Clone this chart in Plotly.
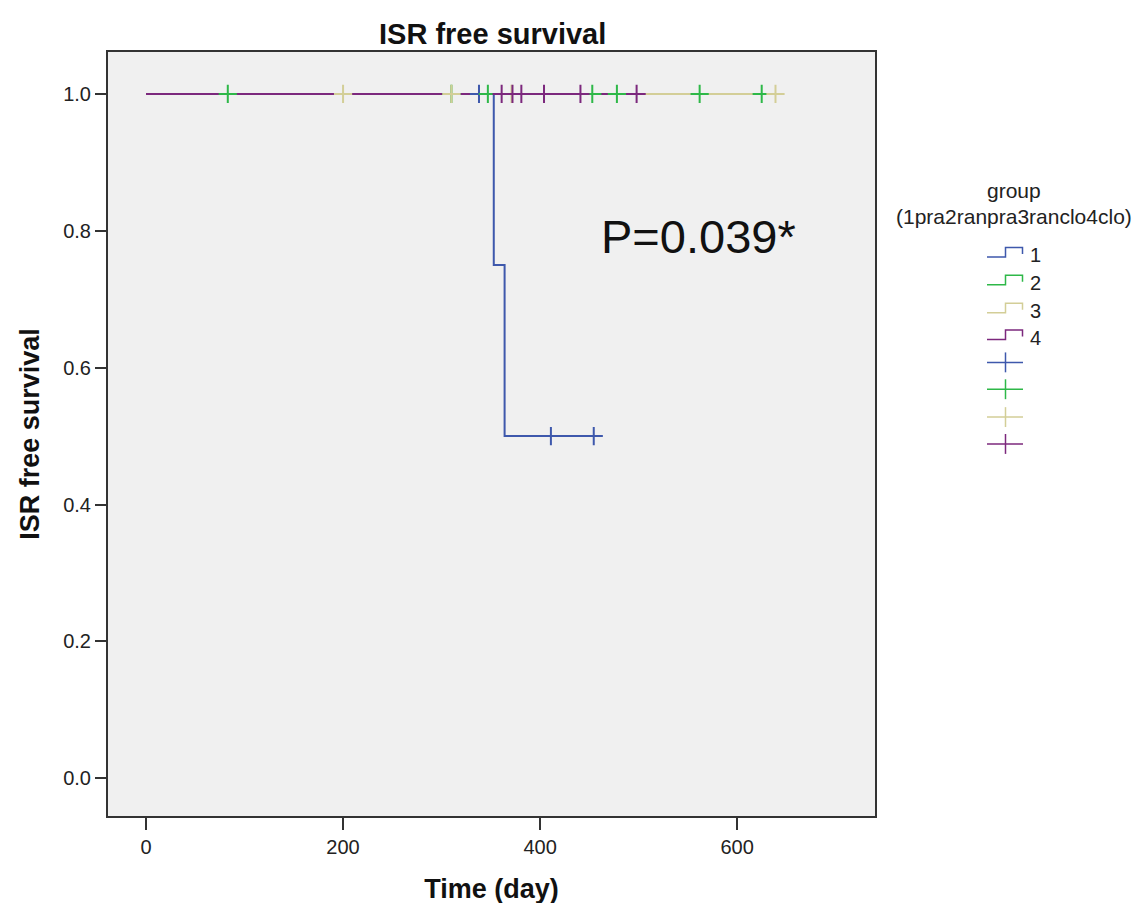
"""ISR free survival - Kaplan-Meier curves by group (SPSS style)."""

import plotly.graph_objects as go

# step curves per group (time in days, survival)
TIME_1 = [0, 353, 364, 454.5]
SURV_1 = [1.0, 0.75, 0.5, 0.5]
TIME_2 = [0, 625]
SURV_2 = [1.0, 1.0]
TIME_3 = [0, 639]
SURV_3 = [1.0, 1.0]
TIME_4 = [0, 498]
SURV_4 = [1.0, 1.0]

# censored observations
CENS_T_1 = [338, 411, 454.5]
CENS_S_1 = [1.0, 0.5, 0.5]
CENS_T_2 = [83, 310, 347, 453, 478, 562, 625]
CENS_S_2 = [1.0, 1.0, 1.0, 1.0, 1.0, 1.0, 1.0]
CENS_T_3 = [200, 310, 371, 639]
CENS_S_3 = [1.0, 1.0, 1.0, 1.0]
CENS_T_4 = [361, 372, 381, 404, 441, 498]
CENS_S_4 = [1.0, 1.0, 1.0, 1.0, 1.0, 1.0]

GROUPS = ["1", "2", "3", "4"]
X_TICKS = [0, 200, 400, 600]
Y_TICKS = [0.0, 0.2, 0.4, 0.6, 0.8, 1.0]

COLORS = {
    "1": "#3E58AC",
    "2": "#2EB848",
    "3": "#D3CE97",
    "4": "#7C287D",
    "bg": "#F0F0F0",
    "frame": "#333333",
    "text": "#222222",
}

FONT = "Liberation Sans, Arial, Helvetica, sans-serif"

# figure geometry (pixels), used to place the hand-drawn legend
W, H = 1140, 903
M_L, M_R, M_T, M_B = 100, 273, 44, 91
PW, PH = W - M_L - M_R, H - M_T - M_B


def px(x):
    return (x - M_L) / PW


def py(y):
    return (H - M_B - y) / PH


curves = [
    (TIME_1, SURV_1, CENS_T_1, CENS_S_1),
    (TIME_2, SURV_2, CENS_T_2, CENS_S_2),
    (TIME_3, SURV_3, CENS_T_3, CENS_S_3),
    (TIME_4, SURV_4, CENS_T_4, CENS_S_4),
]

fig = go.Figure()
for name, (t, s, _, _) in zip(GROUPS, curves):
    fig.add_trace(
        go.Scatter(
            x=t, y=s, mode="lines", name=name,
            line={"color": COLORS[name], "width": 2, "shape": "hv"},
            hoverinfo="skip",
        )
    )
for name, (_, _, ct, cs) in zip(GROUPS, curves):
    fig.add_trace(
        go.Scatter(
            x=ct, y=cs, mode="markers", name=name + " censored",
            marker={"symbol": "cross-thin", "size": 13,
                    "line": {"color": COLORS[name], "width": 2}},
            hoverinfo="skip",
        )
    )

# legend, drawn by hand to get the SPSS step icons
shapes = []
annotations = []
ICON_Y = [250, 278, 306, 333]
CROSS_Y = [356, 383, 411, 438]
for name, y in zip(GROUPS, ICON_Y):
    c = COLORS[name]
    path = "M {a},{b} L {m},{b} L {m},{t} L {r},{t} L {r},{e}".format(
        a=px(979), m=px(997.5), r=px(1014.5), b=py(y), t=py(y - 9.5), e=py(y - 3)
    )
    shapes.append({"type": "path", "xref": "paper", "yref": "paper", "path": path,
                   "line": {"color": c, "width": 1.5}})
    annotations.append({"x": px(1020), "y": py(y - 2), "xref": "paper", "yref": "paper",
                        "text": name, "showarrow": False, "xanchor": "left", "yanchor": "middle",
                        "font": {"size": 20, "color": COLORS["text"], "family": FONT}})
for name, y in zip(GROUPS, CROSS_Y):
    c = COLORS[name]
    shapes.append({"type": "line", "xref": "paper", "yref": "paper",
                   "x0": px(979), "x1": px(1015), "y0": py(y), "y1": py(y),
                   "line": {"color": c, "width": 1.5}})
    shapes.append({"type": "line", "xref": "paper", "yref": "paper",
                   "x0": px(997.5), "x1": px(997.5), "y0": py(y - 10), "y1": py(y + 10),
                   "line": {"color": c, "width": 1.5}})

annotations += [
    {"x": px(1006), "y": py(183), "xref": "paper", "yref": "paper", "text": "group",
     "showarrow": False, "xanchor": "center", "yanchor": "middle",
     "font": {"size": 21, "color": COLORS["text"], "family": FONT}},
    {"x": px(1006), "y": py(209), "xref": "paper", "yref": "paper",
     "text": "(1pra2ranpra3ranclo4clo)",
     "showarrow": False, "xanchor": "center", "yanchor": "middle",
     "font": {"size": 21, "color": COLORS["text"], "family": FONT}},
    {"x": px(690), "y": py(229), "xref": "paper", "yref": "paper", "text": "P=0.039*",
     "showarrow": False, "xanchor": "center", "yanchor": "middle",
     "font": {"size": 47, "color": "#111111", "family": FONT}},
    {"x": 571 / W, "y": py(26), "xref": "paper", "yref": "paper",
     "text": "<b>ISR free survival</b>",
     "showarrow": False, "xanchor": "center", "yanchor": "middle",
     "font": {"size": 29, "color": "#111111", "family": FONT}},
]

fig.update_layout(
    width=W,
    height=H,
    margin={"l": M_L, "r": M_R, "t": M_T, "b": M_B},
    paper_bgcolor="white",
    plot_bgcolor=COLORS["bg"],
    showlegend=False,
    font={"family": FONT, "color": COLORS["text"]},
    shapes=shapes,
    annotations=annotations,
)
fig.update_xaxes(
    range=[-38.6, 740],
    tickvals=X_TICKS,
    ticks="outside", ticklen=12, tickwidth=2, tickcolor=COLORS["frame"],
    showline=True, linecolor=COLORS["frame"], linewidth=2, mirror=True,
    showgrid=False, zeroline=False,
    tickfont={"size": 20, "color": COLORS["text"]},
    title={"text": "<b>Time (day)</b>", "font": {"size": 27, "color": "#111111"}, "standoff": 22},
)
fig.update_yaxes(
    range=[-0.0552, 1.0613],
    tickvals=Y_TICKS, tickformat=".1f",
    ticks="outside", ticklen=11, tickwidth=2, tickcolor=COLORS["frame"],
    showline=True, linecolor=COLORS["frame"], linewidth=2, mirror=True,
    showgrid=False, zeroline=False,
    tickfont={"size": 20, "color": COLORS["text"]},
    title={"text": "<b>ISR free survival</b>", "font": {"size": 27, "color": "#111111"}, "standoff": 16},
)

fig.write_html("out.html")
